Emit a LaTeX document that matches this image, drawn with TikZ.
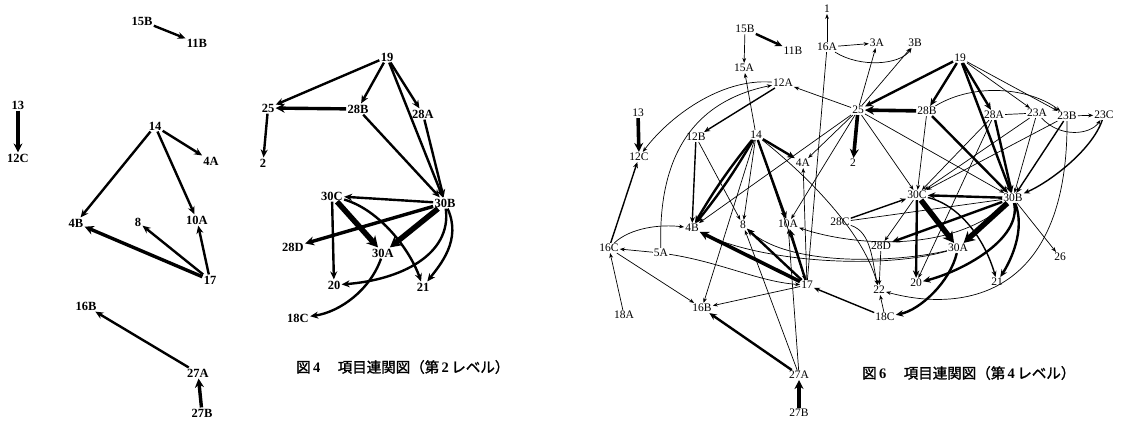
\documentclass[tikz,border=0pt]{standalone}
\usepackage{fontspec}
\setmainfont{Liberation Serif}
\newfontfamily\jfont[FakeBold=1.5]{Noto Sans CJK JP}
\usetikzlibrary{arrows.meta}
\newcommand\lfnt{\fontsize{12.5}{13}\selectfont\bfseries}
\newcommand\rfnt{\fontsize{11.5}{12}\selectfont}
\tikzset{
  L/.style={font=\lfnt, inner sep=1.2pt},
  R/.style={font=\rfnt, inner sep=1pt},
  t3/.style={line width=2.4pt, -{Stealth[length=8pt,width=7pt]}},
  t4/.style={line width=3.4pt, -{Stealth[length=9pt,width=9pt]}},
  t5/.style={line width=5.5pt, -{Stealth[length=11pt,width=12pt]}},
  r0/.style={line width=0.7pt},
  r1/.style={line width=0.7pt, -{Stealth[length=5pt,width=3.8pt]}},
  r2/.style={line width=1.4pt, -{Stealth[length=6pt,width=5pt]}},
  r3/.style={line width=2.4pt, -{Stealth[length=7.5pt,width=6.5pt]}},
  r4/.style={line width=3.6pt, -{Stealth[length=9pt,width=9pt]}},
  r5/.style={line width=5.5pt, -{Stealth[length=11pt,width=12pt]}},
  captxt/.style={font=\jfont\fontsize{14.5}{15}\selectfont, inner sep=0pt}
}
\begin{document}
\begin{tikzpicture}[x=1pt,y=-1pt]
\useasboundingbox (0,0) rectangle (1121,421);
% ---------- Figure 4 (left) ----------
\node[L] (L15B) at (142,21) {15B};
\node[L] (L11B) at (197,43) {11B};
\node[L] (L13) at (18,105) {13};
\node[L] (L12C) at (18,158) {12C};
\node[L] (L14) at (155,126) {14};
\node[L] (L4A) at (211,161) {4A};
\node[L] (L25) at (268,108) {25};
\node[L] (L2) at (263,163) {2};
\node[L] (L4B) at (76,223) {4B};
\node[L] (L8) at (138,222) {8};
\node[L] (L10A) at (197,220) {10A};
\node[L] (L17) at (210,280) {17};
\node[L] (L16B) at (86,306) {16B};
\node[L] (L27A) at (198,373) {27A};
\node[L] (L27B) at (202,413) {27B};
\node[L] (L19) at (387,57) {19};
\node[L] (L28B) at (358,109) {28B};
\node[L] (L28A) at (423,114) {28A};
\node[L] (L30C) at (332,196) {30C};
\node[L] (L30B) at (445,203) {30B};
\node[L] (L28D) at (293,247) {28D};
\node[L] (L30A) at (383,253) {30A};
\node[L] (L20) at (334,285) {20};
\node[L] (L21) at (423,287) {21};
\node[L] (L18C) at (298,318) {18C};

\draw[t3] (L15B) -- (L11B);
\draw[t4] (L13) -- (L12C);
\draw[t3] (L14) -- (L4A);
\draw[t3] (L14) -- (L4B);
\draw[t3] (L14) -- (L10A);
\draw[t4] (L17) -- (L4B);
\draw[t3] (L17) -- (L8);
\draw[t3] (L17) -- (L10A);
\draw[t3] (L27A) -- (L16B);
\draw[t4] (L27B) -- (L27A);
\draw[t3] (L19) -- (L25);
\draw[t3] (L19) -- (L28B);
\draw[t3] (L19) -- (L28A);
\draw[t3] (L19) -- (L30B);
\draw[t4] (L28B) -- (L25);
\draw[t3] (L25) -- (L2);
\draw[t3] (L28B) -- (L30B);
\draw[t3] (L28A) -- (L30B);
\draw[t3] (L30B) -- (L30C);
\draw[t4] (L30B) -- (L28D);
\draw[t5] (L30B) -- (L30A);
\draw[t5] (L30C) -- (L30A);
\draw[t3] (L30C) -- (L20);
\draw[t3] (L30C) .. controls (380,210) and (410,250) .. (L21);
\draw[t3] (L30B) .. controls (462,240) and (440,265) .. (L21);
\draw[t3] (L30B) .. controls (452,255) and (400,280) .. (L20);
\draw[t3] (L30A) .. controls (370,290) and (340,312) .. (L18C);

\node[captxt, anchor=west] (cap4) at (296,367) {図\,{\fontspec{Liberation Serif}\bfseries 4}\hspace{1.2em}項目連関図（第\,{\fontspec{Liberation Serif}\bfseries 2}\,レベル）};

% ---------- Figure 6 (right) ----------
\node[R] (R1) at (827,9) {1};
\node[R] (R16A) at (827,47) {16A};
\node[R] (R3A) at (877,43) {3A};
\node[R] (R3B) at (915,43) {3B};
\node[R] (R15B) at (745,29) {15B};
\node[R] (R11B) at (793,51) {11B};
\node[R] (R15A) at (744,68) {15A};
\node[R] (R12A) at (783,83) {12A};
\node[R] (R19) at (960,58) {19};
\node[R] (R25) at (858,110) {25};
\node[R] (R28B) at (927,111) {28B};
\node[R] (R28A) at (994,115) {28A};
\node[R] (R23A) at (1037,113) {23A};
\node[R] (R23B) at (1067,116) {23B};
\node[R] (R23C) at (1104,115) {23C};
\node[R] (R13) at (638,113) {13};
\node[R] (R12B) at (696,137) {12B};
\node[R] (R14) at (756,135) {14};
\node[R] (R12C) at (639,157) {12C};
\node[R] (R4A) at (803,163) {4A};
\node[R] (R2) at (853,163) {2};
\node[R] (R30C) at (917,195) {30C};
\node[R] (R30B) at (1013,198) {30B};
\node[R] (R4B) at (692,228) {4B};
\node[R] (R8) at (743,225) {8};
\node[R] (R10A) at (788,224) {10A};
\node[R] (R28C) at (840,222) {28C};
\node[R] (R28D) at (881,246) {28D};
\node[R] (R30A) at (958,248) {30A};
\node[R] (R26) at (1060,257) {26};
\node[R] (R16C) at (609,248) {16C};
\node[R] (R5A) at (661,253) {5A};
\node[R] (R17) at (807,285) {17};
\node[R] (R20) at (916,283) {20};
\node[R] (R21) at (997,282) {21};
\node[R] (R22) at (879,290) {22};
\node[R] (R16B) at (702,308) {16B};
\node[R] (R18A) at (624,315) {18A};
\node[R] (R18C) at (885,317) {18C};
\node[R] (R27A) at (799,375) {27A};
\node[R] (R27B) at (799,413) {27B};

% top area
\draw[r1] (R16A) -- (R1);
\draw[r1] (R16A) -- (R3A);
\draw[r1] (R16A) .. controls (860,68) and (900,65) .. (R3B);
\draw[r3] (R15B) -- (R11B);
\draw[r1] (R15B) -- (R15A);
\draw[r1] (R25) -- (R12A);
\draw[r1] (R25) -- (R3A);
\draw[r1] (R25) -- (R3B);
\draw[r1] (R14) -- (R15A);
\draw[r2] (R12A) -- (R12B);
\draw[r1] (R12A) .. controls (720,78) and (668,118) .. (R12C);
\draw[r1] (R5A) .. controls (658,160) and (690,102) .. (R12A);
\draw[r3] (R19) -- (R25);
\draw[r3] (R19) -- (R28B);
\draw[r4] (R28B) -- (R25);
\draw[r4] (R25) -- (R2);
\draw[r3] (R19) -- (R30B);
\draw[r3] (R19) -- (R28A);
\draw[r1] (R19) -- (R23A);
\draw[r1] (R19) -- (R23B);
\draw[r1] (R28B) .. controls (975,82) and (1030,88) .. (R23B);
\draw[r0] (R28A) -- (R23A);
\draw[r1] (R23B) -- (R23C);
\draw[r1] (R23A) .. controls (1060,138) and (1090,135) .. (R23C);
% into 30C / 30B
\draw[r1] (R25) -- (R30C);
\draw[r1] (R25) -- (R30B);
\draw[r1] (R25) -- (R4A);
\draw[r1] (R25) -- (R4B);
\draw[r1] (R25) -- (R10A);
\draw[r1] (R28B) -- (R30C);
\draw[r3] (R28B) -- (R30B);
\draw[r3] (R28A) -- (R30B);
\draw[r1] (R28A) -- (R30C);
\draw[r1] (R28A) -- (R20);
\draw[r1] (R23A) -- (R30C);
\draw[r1] (R23A) -- (R30B);
\draw[r1] (R23B) -- (R30C);
\draw[r2] (R23B) -- (R30B);
\draw[r2] (R23C) .. controls (1092,150) and (1050,182) .. (R30B);
\draw[r1] (R23B) .. controls (1068,300) and (960,312) .. (R22);
\draw[r1] (R30B) -- (R26);
% 30B / 30C cluster
\draw[r5] (R30B) -- (R30A);
\draw[r5] (R30C) -- (R30A);
\draw[r3] (R30B) -- (R30C);
\draw[r3] (R30B) -- (R28D);
\draw[r3] (R30C) -- (R20);
\draw[r3] (R30B) .. controls (1022,240) and (960,272) .. (R20);
\draw[r3] (R30B) .. controls (1026,230) and (1010,262) .. (R21);
\draw[r2] (R30C) .. controls (960,205) and (985,240) .. (R21);
\draw[r3] (R30A) .. controls (950,282) and (920,310) .. (R18C);
\draw[r1] (R30C) -- (R28D);
\draw[r2] (R28C) -- (R30C);
\draw[r0] (R28C) -- (R30B);
\draw[r1] (R28C) .. controls (872,232) and (872,262) .. (R22);
\draw[r1] (R28D) -- (R22);
\draw[r2] (R18C) -- (R17);
\draw[r1] (R18C) -- (R22);
% long curves leftwards
\draw[r1] (R30A) .. controls (900,262) and (790,268) .. (R8);
\draw[r1] (R30A) .. controls (880,270) and (760,262) .. (R4B);
\draw[r1] (R30B) .. controls (950,255) and (850,245) .. (R10A);
\draw[r1] (R14) .. controls (800,170) and (862,228) .. (R22);
% left side
\draw[r2] (R16C) -- (R12C);
\draw[r1] (R18A) -- (R16C);
\draw[r1] (R5A) -- (R16C);
\draw[r1] (R16C) .. controls (630,228) and (660,224) .. (R4B);
\draw[r1] (R16C) -- (R16B);
\draw[r1] (R5A) .. controls (720,262) and (760,282) .. (R17);
\draw[r1] (R17) -- (R16B);
\draw[r3] (R27A) -- (R16B);
\draw[r4] (R27B) -- (R27A);
\draw[r1] (R27A) -- (R8);
\draw[r1] (R27A) -- (R10A);
\draw[r1] (R17) -- (R4A);
\draw[r3] (R14) -- (R4A);
\draw[r3] (R14) to[bend left=4] (R4B);
\draw[r3] (R14) to[bend right=4] (R4B);
\draw[r1] (R14) -- (R8);
\draw[r3] (R14) -- (R10A);
\draw[r1] (R14) -- (R16B);
\draw[r1] (R14) -- (R17);
\draw[r2] (R12B) -- (R4B);
\draw[r1] (R12B) -- (R8);
\draw[r4] (R17) -- (R4B);
\draw[r3] (R17) -- (R8);
\draw[r3] (R17) -- (R10A);
\draw[r0] (R16A) -- (R17);
\draw[r4] (R13) -- (R12C);

\node[captxt, anchor=west] (cap6) at (862,373) {図\,{\fontspec{Liberation Serif}\bfseries 6}\hspace{1.2em}項目連関図（第\,{\fontspec{Liberation Serif}\bfseries 4}\,レベル）};
\end{tikzpicture}
\end{document}
